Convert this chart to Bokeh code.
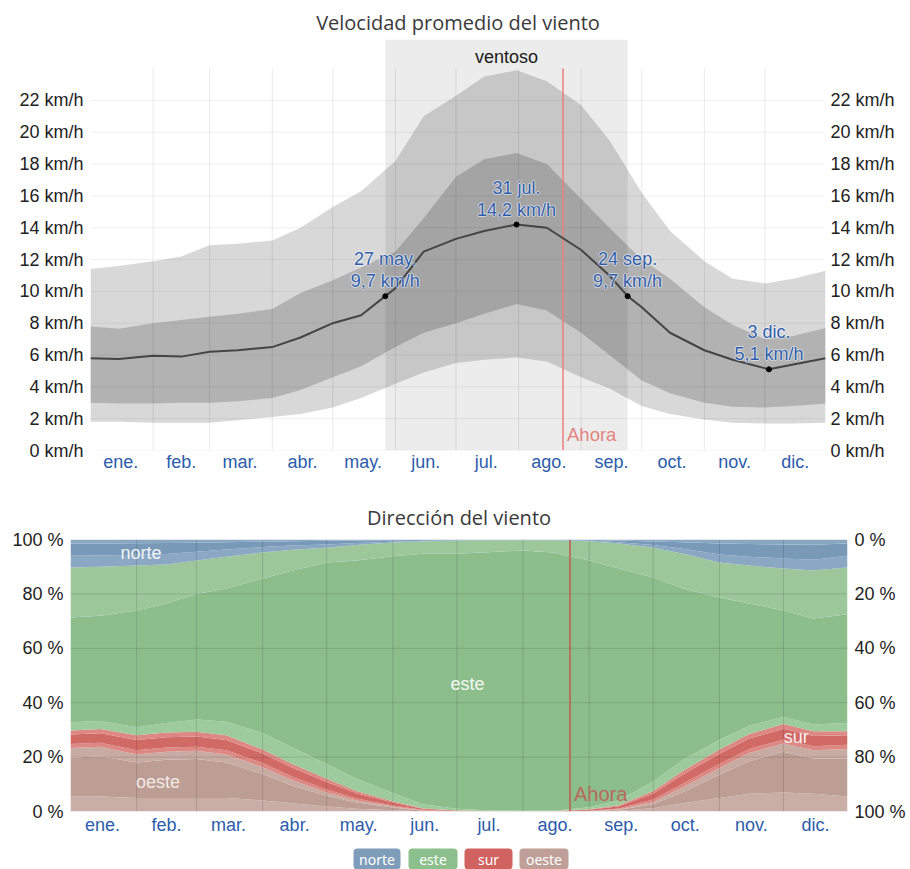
from bokeh.plotting import figure
from bokeh.models import (Range1d, LinearAxis, FixedTicker, PrintfTickFormatter,
                          ColumnDataSource)
from bokeh.layouts import column
from bokeh.embed import file_html
from bokeh.resources import INLINE
from bokeh.core.properties import value

# ---------------- data ----------------
months = ["ene.", "feb.", "mar.", "abr.", "may.", "jun.", "jul.", "ago.",
          "sep.", "oct.", "nov.", "dic."]
month_days = [31, 28, 31, 30, 31, 30, 31, 31, 30, 31, 30, 31]

# wind speed (km/h) percentile bands, day-of-year index
band_days = [0, 14, 31, 45, 59, 73, 90, 104, 120, 134, 151, 165, 181, 195, 211,
             226, 243, 257, 273, 287, 304, 318, 334, 348, 364]
p10 = [1.8, 1.8, 1.75, 1.75, 1.75, 1.9, 2.1, 2.3, 2.7, 3.3, 4.2, 4.9, 5.5, 5.7,
       5.85, 5.6, 4.6, 3.9, 2.8, 2.3, 1.95, 1.75, 1.7, 1.7, 1.75]
p25 = [3.0, 2.95, 2.95, 3.0, 3.0, 3.1, 3.3, 3.8, 4.6, 5.3, 6.5, 7.4, 8.0, 8.6,
       9.2, 8.8, 7.4, 6.0, 4.4, 3.6, 3.0, 2.75, 2.7, 2.8, 2.95]
p75 = [7.8, 7.65, 8.0, 8.2, 8.4, 8.6, 8.9, 9.9, 10.7, 11.5, 12.5, 14.6, 17.2,
       18.3, 18.7, 18.0, 15.8, 14.0, 12.0, 10.8, 9.0, 7.9, 7.0, 7.2, 7.7]
p90 = [11.4, 11.6, 11.9, 12.2, 12.9, 13.0, 13.2, 14.0, 15.3, 16.3, 18.2, 21.0,
       22.3, 23.5, 23.9, 23.2, 21.7, 19.5, 16.2, 13.8, 11.9, 10.8, 10.5, 10.8, 11.3]

mean_days = [0, 14, 31, 45, 59, 73, 90, 104, 120, 134, 146, 151, 165, 181, 195,
             211, 226, 243, 257, 266, 273, 287, 304, 318, 336, 348, 364]
mean_kmh = [5.8, 5.75, 5.95, 5.9, 6.2, 6.3, 6.5, 7.1, 8.0, 8.5, 9.7, 10.2, 12.5,
            13.3, 13.8, 14.2, 14.0, 12.6, 11.0, 9.7, 9.0, 7.4, 6.3, 5.7, 5.1, 5.4, 5.8]

annot_days = [146, 211, 266, 336]
annot_kmh = [9.7, 14.2, 9.7, 5.1]
annot_dates = ["27 may.", "31 jul.", "24 sep.", "3 dic."]

windy_start = 146   # 27 may.
windy_end = 266     # 24 sep.
now_day = 234       # Ahora

kmh_ticks = [0, 2, 4, 6, 8, 10, 12, 14, 16, 18, 20, 22]
pct_ticks = [0, 20, 40, 60, 80, 100]

# wind direction (% of hours), stacked bottom -> top
dir_days = [0, 14, 31, 45, 59, 73, 90, 104, 120, 134, 151, 165, 181, 195, 212,
            226, 243, 257, 273, 287, 304, 318, 334, 348, 364]
oeste_lo = [5.5, 5.5, 5, 5, 5, 5, 4, 3, 1.8, 1, 0.5, 0.1, 0, 0, 0, 0, 0.1, 0.3,
            1.2, 3, 5, 6.5, 7, 6.5, 5.5]
oeste = [14.3, 14.8, 13, 14, 14.3, 13, 9.8, 6.5, 4, 2.3, 1.0, 0.2, 0.1, 0.05, 0,
         0, 0.05, 0.3, 1.5, 4.2, 8.5, 12, 15, 13, 14]
oeste_hi = [3.5, 3.5, 3, 3, 3, 3, 2.5, 2, 1.2, 0.7, 0.3, 0.1, 0, 0, 0, 0, 0.05,
            0.2, 0.8, 1.8, 2.5, 3, 3, 3, 3.5]
sur_lo = [1.5, 1.5, 1.5, 1.5, 1.5, 1.5, 1.5, 1.3, 1.1, 0.8, 0.4, 0.2, 0.05, 0.03,
          0.02, 0.02, 0.1, 0.3, 0.9, 1.3, 1.5, 1.5, 1.5, 1.5, 1.5]
sur = [3.5, 3.5, 3.8, 3.8, 3.8, 3.8, 3.5, 3.3, 2.7, 1.9, 1.1, 0.45, 0.2, 0.1,
       0.06, 0.06, 0.35, 0.85, 2.2, 3.3, 3.7, 3.8, 3.9, 3.8, 3.5]
sur_hi = [1.5, 1.5, 1.7, 1.7, 1.7, 1.7, 1.5, 1.4, 1.2, 0.8, 0.5, 0.15, 0.05,
          0.02, 0.02, 0.02, 0.15, 0.35, 0.9, 1.4, 1.6, 1.7, 1.8, 1.7, 1.5]
este_lo = [3, 3, 3, 3.5, 4.5, 5, 6, 6, 5.5, 4.5, 3, 1.5, 0.6, 0.3, 0.2, 0.2, 0.8,
           1.8, 3.5, 4, 3.5, 3, 2.5, 2.5, 3]
este = [38.5, 38.7, 42.9, 44, 46.2, 49, 56.9, 65.1, 74, 80.3, 87, 92.1, 93.8,
        94.8, 95.7, 94.9, 90.7, 85.2, 75, 63, 52.4, 45, 39.2, 39, 40]
este_hi = [18.4, 18, 16.5, 14.3, 12.3, 11.7, 9.5, 7.6, 5.5, 5.7, 5.1, 4.5, 4.8,
           4.4, 3.7, 4.5, 7.1, 9.2, 11, 12.8, 12.8, 13.9, 15.4, 17.6, 17.2]
norte_lo = [4.3, 4.1, 4, 3.9, 3.2, 2.6, 2, 1.6, 1.2, 0.7, 0.3, 0.2, 0.1, 0.1, 0.1,
            0.1, 0.2, 0.5, 1, 1.8, 3, 3.3, 3.7, 4, 4.3]
norte = [4.5, 4.4, 4.2, 4, 3.3, 2.7, 2, 1.6, 1.3, 0.9, 0.5, 0.3, 0.15, 0.1, 0.1,
         0.1, 0.2, 0.6, 1.3, 2.4, 4, 4.6, 5.2, 5.5, 4.5]
norte_hi = [1.5, 1.5, 1.4, 1.3, 1.2, 1, 0.8, 0.6, 0.5, 0.4, 0.3, 0.2, 0.15, 0.1,
            0.1, 0.1, 0.2, 0.4, 0.7, 1, 1.5, 1.7, 1.8, 1.9, 1.5]

legend_names = ["norte", "este", "sur", "oeste"]

# ---------------- helpers ----------------
FONT = "Liberation Sans"
TITLE_FONT = "Open Sans"
BLUE = "#2c5cab"

month_starts = [0]
for d in month_days:
    month_starts.append(month_starts[-1] + d)
month_mids = [int(month_starts[i] + month_days[i] / 2) for i in range(12)]
x_end = 364


def style_common(fig, title_text, standoff, title_standoff):
    fig.outline_line_color = None
    fig.xgrid.visible = False
    fig.ygrid.visible = False
    fig.title.text = title_text
    fig.title.align = "center"
    fig.title.text_font = TITLE_FONT
    fig.title.text_font_size = "20px"
    fig.title.text_font_style = "normal"
    fig.title.text_color = "#3a3a3a"
    fig.title.standoff = title_standoff
    xa = fig.xaxis[0]
    xa.ticker = FixedTicker(ticks=month_mids)
    xa.major_label_overrides = {m: lab for m, lab in zip(month_mids, months)}
    xa.axis_line_color = None
    xa.major_tick_line_color = None
    xa.minor_tick_line_color = None
    xa.major_tick_out = 0
    xa.major_tick_in = 0
    xa.major_label_text_color = BLUE
    xa.major_label_text_font = FONT
    xa.major_label_text_font_size = "18px"
    xa.major_label_standoff = standoff


def style_yaxis(ax, ticks, fmt, standoff):
    ax.ticker = FixedTicker(ticks=ticks)
    ax.formatter = PrintfTickFormatter(format=fmt)
    ax.axis_line_color = None
    ax.major_tick_line_color = None
    ax.minor_tick_line_color = None
    ax.major_tick_out = 0
    ax.major_tick_in = 0
    ax.major_label_text_font = FONT
    ax.major_label_text_font_size = "18px"
    ax.major_label_text_color = "#222222"
    ax.major_label_standoff = standoff


# ---------------- top chart: speed ----------------
top_y = 25.83
p = figure(width=906, height=485, x_range=Range1d(0, x_end), y_range=Range1d(0, top_y),
           output_backend="svg", toolbar_location=None, frame_align=False,
           min_border_left=90, min_border_right=81, min_border_top=39, min_border_bottom=35)
style_common(p, "Velocidad promedio del viento", 1, 8)
style_yaxis(p.yaxis[0], kmh_ticks, "%d km/h", 7)
ry = LinearAxis()
style_yaxis(ry, kmh_ticks, "%d km/h", 5)
p.add_layout(ry, "right")

p.varea(x=band_days, y1=p10, y2=p90, fill_color="#d8d8d8")
p.varea(x=band_days, y1=p25, y2=p75, fill_color="#b2b2b2")
p.quad(left=[windy_start], right=[windy_end], bottom=[0], top=[top_y],
       fill_color="black", fill_alpha=0.075, line_color=None)

# grid
p.segment(x0=month_starts[1:12], y0=[0] * 11, x1=month_starts[1:12], y1=[24] * 11,
          line_color="black", line_alpha=0.09, line_width=1)
p.segment(x0=[0] * len(kmh_ticks), y0=kmh_ticks, x1=[x_end] * len(kmh_ticks), y1=kmh_ticks,
          line_color="black", line_alpha=0.06, line_width=1)

p.segment(x0=[now_day], y0=[0], x1=[now_day], y1=[24], line_color="#e8807c", line_width=1.5)
p.text(x=[now_day], y=[0], text=["Ahora"], x_offset=4, y_offset=-16,
       text_align="left", text_baseline="middle", text_color="#e4837d",
       text_font=value(FONT), text_font_size="18.5px")

p.line(x=mean_days, y=mean_kmh, line_color="#454545", line_width=2)
p.scatter(x=annot_days, y=annot_kmh, size=5, color="black")

annot_vals = [f"{v:.1f}".replace(".", ",") + " km/h" for v in annot_kmh]
for txt, yo in [(annot_dates, -37), (annot_vals, -15)]:
    for dx, dy in [(-1, 0), (1, 0), (0, -1), (0, 1)]:
        p.text(x=annot_days, y=annot_kmh, text=txt, x_offset=dx, y_offset=yo + dy,
               text_align="center", text_baseline="middle", text_color="white",
               text_alpha=0.55, text_font=value(FONT), text_font_size="18px")
    p.text(x=annot_days, y=annot_kmh, text=txt, y_offset=yo,
           text_align="center", text_baseline="middle", text_color=BLUE,
           text_font=value(FONT), text_font_size="18px")

p.text(x=[(windy_start + windy_end) / 2], y=[top_y], text=["ventoso"], y_offset=17,
       text_align="center", text_baseline="middle", text_color="#1a1a1a",
       text_font=value(FONT), text_font_size="18px")

# ---------------- bottom chart: direction ----------------
q = figure(width=908, height=352, x_range=Range1d(0, x_end), y_range=Range1d(0, 100),
           extra_y_ranges={"rev": Range1d(100, 0)}, frame_align=False,
           output_backend="svg", toolbar_location=None,
           min_border_left=70, min_border_right=60, min_border_top=54, min_border_bottom=26)
style_common(q, "Dirección del viento", 3, 17)
style_yaxis(q.yaxis[0], pct_ticks, "%d %%", 7)
rq = LinearAxis(y_range_name="rev")
style_yaxis(rq, pct_ticks, "%d %%", 7)
q.add_layout(rq, "right")

layers = ["oeste_lo", "oeste", "oeste_hi", "sur_lo", "sur", "sur_hi",
          "este_lo", "este", "este_hi", "norte_lo", "norte", "norte_hi"]
layer_colors = ["#c9aea6", "#bc9e95", "#c8aba3", "#dd8883", "#d16a65", "#dd8883",
                "#9ecb9d", "#8cbe8c", "#9cc79b", "#8aa8c3", "#7899b8", "#8aa7c1"]
src = ColumnDataSource(dict(x=dir_days, oeste_lo=oeste_lo, oeste=oeste, oeste_hi=oeste_hi,
                            sur_lo=sur_lo, sur=sur, sur_hi=sur_hi, este_lo=este_lo,
                            este=este, este_hi=este_hi, norte_lo=norte_lo, norte=norte,
                            norte_hi=norte_hi))
q.varea_stack(stackers=layers, x="x", color=layer_colors, source=src)

q.segment(x0=month_starts[1:12], y0=[0] * 11, x1=month_starts[1:12], y1=[100] * 11,
          line_color="black", line_alpha=0.13, line_width=1)
q.segment(x0=[0] * 4, y0=pct_ticks[1:5], x1=[x_end] * 4, y1=pct_ticks[1:5],
          line_color="black", line_alpha=0.12, line_width=1)

q.segment(x0=[now_day], y0=[0], x1=[now_day], y1=[100], line_color="#c25a50", line_width=1.5)
q.text(x=[now_day], y=[0], text=["Ahora"], x_offset=4, y_offset=-18,
       text_align="left", text_baseline="middle", text_color="#b9695c",
       text_font=value(FONT), text_font_size="20px")

for tx, ty, name, col in [(33, 94.9, "norte", "#f2f5f8"), (186, 47, "este", "#f4f8f3"),
                          (41, 11, "oeste", "#f3e9e5"), (340, 27.5, "sur", "#fbeeee")]:
    q.text(x=[tx], y=[ty], text=[name], text_align="center", text_baseline="middle",
           text_color=col, text_font=value(FONT), text_font_size="18px")

# ---------------- legend strip ----------------
lg = figure(width=908, height=32, x_range=Range1d(0, 908), y_range=Range1d(0, 32),
            x_axis_type=None, y_axis_type=None, frame_align=False,
            output_backend="svg", toolbar_location=None,
            min_border_left=0, min_border_right=0, min_border_top=0, min_border_bottom=0)
lg.outline_line_color = None
lg.xgrid.visible = False
lg.ygrid.visible = False
legend_colors = ["#7e9dbb", "#8bbf8b", "#d0625f", "#bf9f97"]
legend_left = [353, 408, 464, 519]
legend_right = [400, 457, 512, 568]
lg.quad(left=legend_left, right=legend_right, bottom=[0] * 4, top=[21] * 4,
        fill_color=legend_colors, line_color=None, border_radius=4)
lg.text(x=[(a + b) / 2 for a, b in zip(legend_left, legend_right)], y=[10.5] * 4,
        text=legend_names, text_align="center", text_baseline="middle",
        text_color="white", text_font=value("Noto Sans"), text_font_size="14px")

layout = column(p, q, lg, spacing=0)
open("out.html", "w").write(file_html(layout, INLINE))
